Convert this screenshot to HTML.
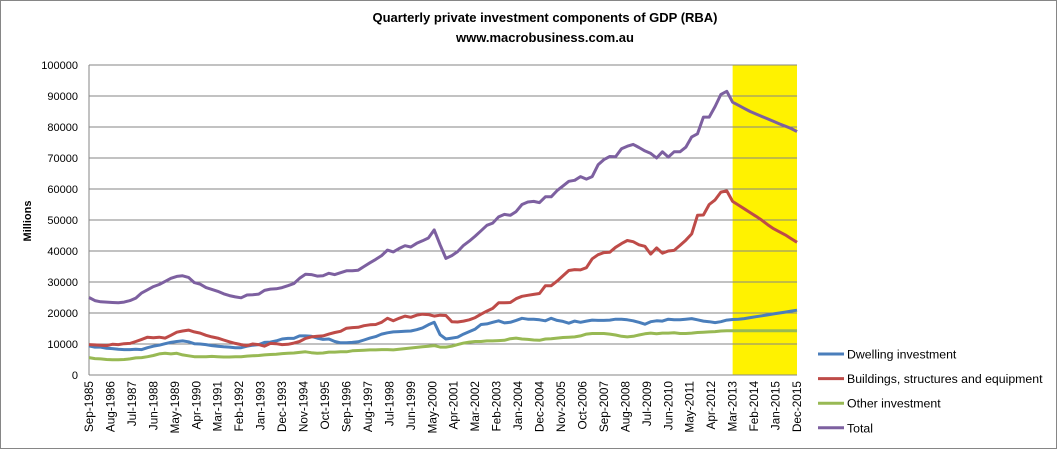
<!DOCTYPE html>
<html><head><meta charset="utf-8"><style>
body{margin:0;background:#fff}
svg{display:block;font-family:"Liberation Sans",sans-serif}
</style></head><body>
<svg id="c" width="1057" height="449">
<rect x="0.5" y="0.5" width="1056" height="448" fill="#fff" stroke="#868686"/>
<text x="545" y="22" text-anchor="middle" font-size="13" font-weight="bold">Quarterly private investment components of GDP (RBA)</text>
<text x="545" y="42" text-anchor="middle" font-size="13" font-weight="bold">www.macrobusiness.com.au</text>
<text transform="translate(31,221) rotate(-90)" text-anchor="middle" font-size="11" font-weight="bold">Millions</text>
</svg>
<script>
const xLabels=["Sep-1985","Aug-1986","Jul-1987","Jun-1988","May-1989","Apr-1990","Mar-1991","Feb-1992","Jan-1993","Dec-1993","Nov-1994","Oct-1995","Sep-1996","Aug-1997","Jul-1998","Jun-1999","May-2000","Apr-2001","Mar-2002","Feb-2003","Jan-2004","Dec-2004","Nov-2005","Oct-2006","Sep-2007","Aug-2008","Jul-2009","Jun-2010","May-2011","Apr-2012","Mar-2013","Feb-2014","Jan-2015","Dec-2015"];
const yTicks=[0,10000,20000,30000,40000,50000,60000,70000,80000,90000,100000];
const forecastStart="Mar-2013";
const seriesNames=["Dwelling investment","Buildings, structures and equipment","Other investment","Total"];
const dwelling=[9400,9000,9000,8600,8500,8300,8200,8200,8300,8200,8800,9300,9600,10100,10500,10800,11000,10700,10100,10000,9800,9500,9300,9100,9000,8800,8800,9300,9600,9800,10500,10600,11000,11600,11800,11800,12600,12600,12500,11900,11500,11600,10800,10400,10400,10500,10700,11300,11900,12400,13200,13600,13900,14000,14100,14200,14600,15200,16200,17000,13000,11600,11900,12200,13200,14000,14800,16300,16500,17000,17500,16800,17000,17600,18300,18000,18000,17800,17500,18300,17600,17300,16700,17400,17000,17400,17700,17600,17600,17700,18000,18000,17800,17500,17000,16400,17200,17500,17400,18000,17800,17800,18000,18200,17800,17400,17200,16900,17200,17700,17900,18000,18200,18500,18800,19100,19400,19700,20000,20300,20600,20900];
const buildings=[9800,9700,9600,9500,9900,9800,10100,10200,10800,11500,12200,12000,12200,11900,12800,13800,14200,14500,13900,13500,12800,12300,11900,11300,10700,10200,9800,9500,10000,9800,9300,10200,10100,9800,9900,10300,10800,11800,12300,12500,12600,13200,13700,14100,15100,15300,15400,15900,16200,16300,17000,18300,17500,18300,19000,18600,19300,19600,19500,19000,19300,19200,17200,17100,17400,17800,18500,19600,20600,21500,23300,23300,23400,24600,25400,25700,26000,26300,28800,28800,30300,32000,33700,34000,33900,34600,37500,38800,39500,39600,41200,42400,43400,43000,42000,41500,39000,41000,39300,40000,40200,41800,43500,45500,51500,51600,55000,56500,59000,59400,56000,54800,53600,52400,51200,49900,48500,47200,46200,45200,44000,42800];
const other=[5600,5300,5200,5000,4900,4900,5000,5200,5500,5600,5900,6300,6800,7000,6800,7000,6500,6200,5900,5900,5900,6000,5900,5800,5800,5900,5900,6100,6200,6300,6500,6600,6700,6900,7000,7100,7300,7500,7200,7000,7100,7400,7400,7500,7500,7800,7900,8000,8100,8100,8200,8200,8100,8300,8500,8700,8900,9100,9300,9500,9000,9000,9300,9800,10300,10600,10800,10800,11000,11000,11100,11200,11700,11900,11600,11500,11300,11200,11600,11700,11900,12100,12200,12300,12600,13200,13400,13400,13400,13200,12900,12500,12300,12500,12900,13300,13500,13300,13500,13500,13600,13400,13400,13500,13700,13800,13900,14000,14200,14300,14300,14300,14300,14300,14300,14300,14300,14300,14300,14300,14300,14300];
const total=[25000,24000,23600,23500,23400,23300,23500,24000,24800,26500,27500,28500,29200,30200,31200,31800,32000,31500,29800,29300,28200,27600,27000,26200,25600,25200,24900,25800,25900,26100,27300,27700,27800,28200,28800,29500,31200,32500,32400,31900,32000,32800,32400,33000,33600,33600,33800,35000,36200,37300,38500,40300,39700,40800,41700,41300,42500,43300,44200,46800,42000,37600,38500,39800,41800,43200,44800,46500,48300,49000,51000,51800,51500,52700,55000,55800,56000,55600,57500,57500,59500,61000,62500,62800,64000,63200,64000,67800,69500,70500,70400,73000,73800,74400,73400,72300,71500,70000,72000,70300,72000,72000,73500,76800,77800,83200,83200,86600,90500,91500,88000,87000,86000,85000,84200,83400,82600,81800,81000,80300,79500,78500];
const colors=["#4a7ebb","#be4b48","#98b954","#7d60a0"];

const NS="http://www.w3.org/2000/svg";
const svg=document.getElementById("c");
const X0=89,X1=797,Y0=375,Y1=65,MAXM=363,YMAX=100000;
const months={Jan:0,Feb:1,Mar:2,Apr:3,May:4,Jun:5,Jul:6,Aug:7,Sep:8,Oct:9,Nov:10,Dec:11};
function labelMonth(s){const [m,y]=s.split("-");return (+y-1985)*12+months[m]-8;}
function xs(m){return X0+m/MAXM*(X1-X0);}
function ys(v){return Y0-v/YMAX*(Y0-Y1);}
function mk(tag,attrs){const e=document.createElementNS(NS,tag);for(const k in attrs)e.setAttribute(k,attrs[k]);svg.appendChild(e);return e;}

const fx=xs(labelMonth(forecastStart));
const yr=mk("rect",{x:fx,y:Y1,width:X1-fx,height:Y0-Y1,fill:"#fff200"});



yTicks.forEach(t=>{
  const g=mk("line",{x1:X0,x2:X1,y1:ys(t),y2:ys(t),stroke:"#868686","stroke-width":1});
  
  
  const tx=mk("text",{x:78,y:ys(t)+4,"text-anchor":"end","font-size":11});
  tx.textContent=t;
  
  
});
const ax=mk("line",{x1:X0,x2:X0,y1:Y1,y2:Y0,stroke:"#868686"});



xLabels.forEach(l=>{
  const x=xs(labelMonth(l));
  const t=mk("text",{transform:`translate(${x+4},381) rotate(-90)`,"text-anchor":"end","font-size":11.8});
  t.textContent=l;
  
  
});

[dwelling,buildings,other,total].forEach((s,i)=>{
  const pts=s.map((v,j)=>xs(j*3).toFixed(1)+","+ys(v).toFixed(1)).join(" ");
  const p=mk("polyline",{points:pts,fill:"none",stroke:colors[i],"stroke-width":3,"stroke-linejoin":"round"});
  
  
});

seriesNames.forEach((n,i)=>{
  const y=354+i*24.6;
  const l=mk("line",{x1:818,x2:844,y1:y,y2:y,stroke:colors[i],"stroke-width":3});
  
  
  const t=mk("text",{x:847,y:y+4.5,"font-size":12.3});
  t.textContent=n;
  
  
});
</script>
</body></html>
